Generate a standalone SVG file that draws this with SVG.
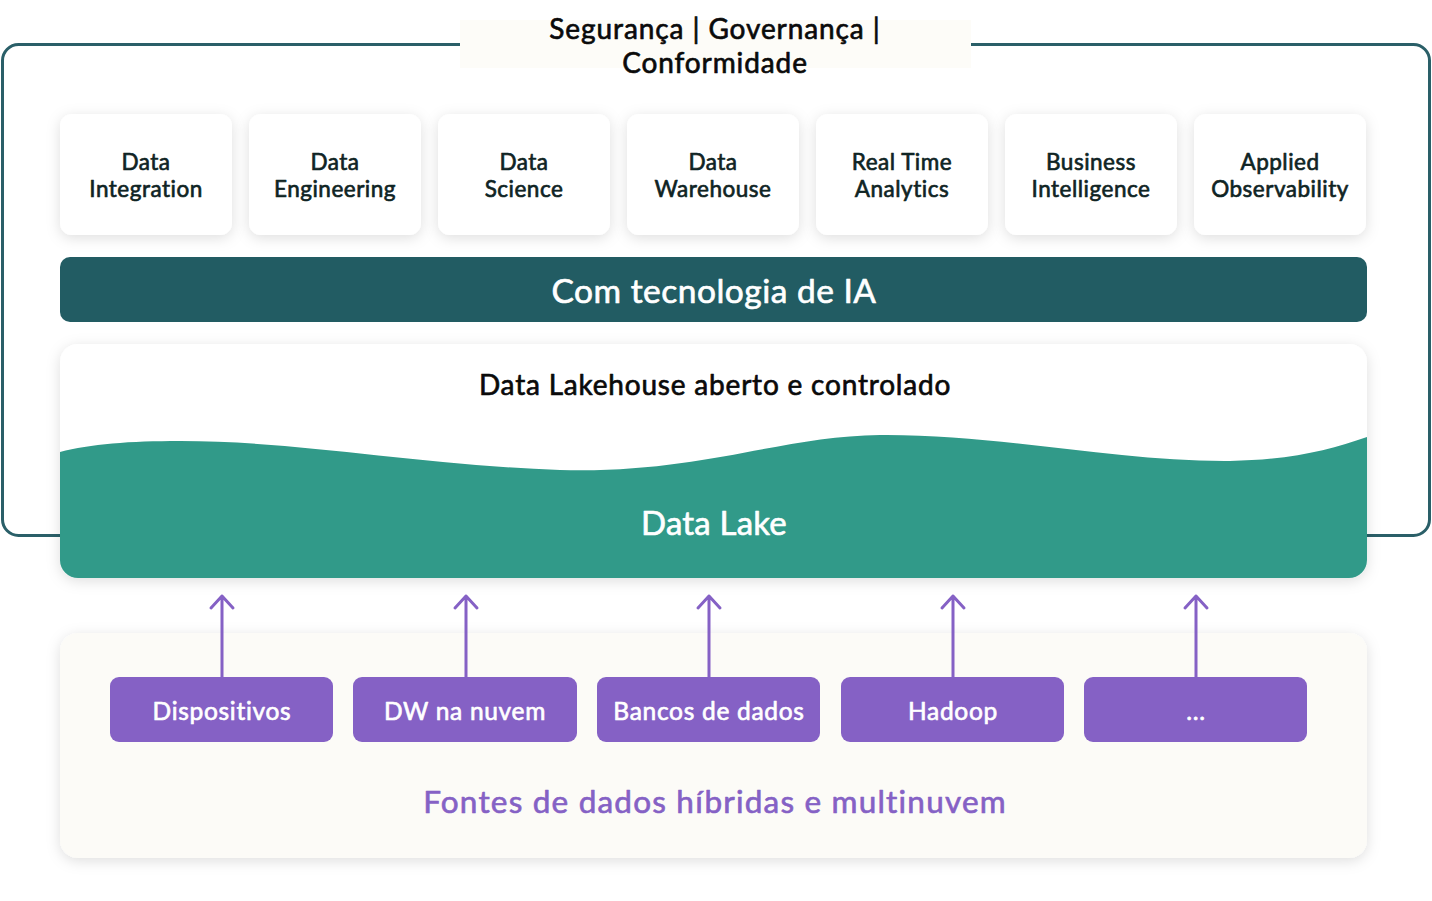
<svg xmlns="http://www.w3.org/2000/svg" width="1432" height="901" viewBox="0 0 1432 901">
<style>
.t{font-family:Lato,"Noto Sans",sans-serif;text-anchor:middle;font-weight:400;stroke-width:0.65;stroke-linejoin:round}
.dk{fill:#0a0a0a;stroke:#0a0a0a}
.wh{fill:#ffffff;stroke:#ffffff}
.pu{fill:#8561c5;stroke:#8561c5}
.card{fill:#ffffff}
.ct{font-size:22.5px;letter-spacing:0.5px;fill:#0f2424;stroke:#0f2424}
.src{fill:#8561c5}
.st{font-size:24.5px;letter-spacing:0.7px}
.arr{stroke:#8561c5;stroke-width:3;fill:none;stroke-linecap:round;stroke-linejoin:round}
</style>
<defs>
<filter id="sh" x="-20%" y="-30%" width="140%" height="160%">
<feDropShadow dx="0" dy="3" stdDeviation="7" flood-color="#000" flood-opacity="0.13"/>
</filter>
<clipPath id="lk"><rect x="60" y="344" width="1307" height="234" rx="18"/></clipPath>
</defs>
<rect width="1432" height="901" fill="#ffffff"/>
<g id="frame">
<rect x="2.5" y="44.5" width="1427" height="491" rx="16" fill="none" stroke="#2a5f68" stroke-width="3"/>
<rect x="460" y="20" width="511" height="48" fill="#fdfcf8"/>
<text class="t dk" x="715" y="39" font-size="28" letter-spacing="0.9">Segurança | Governança |</text>
<text class="t dk" x="715" y="73" font-size="28" letter-spacing="0.9">Conformidade</text>
</g>
<g id="n1"><rect class="card" filter="url(#sh)" x="60" y="114" width="172" height="121" rx="12"/><text class="t ct" x="146" y="170">Data</text><text class="t ct" x="146" y="197">Integration</text></g>
<g id="n2"><rect class="card" filter="url(#sh)" x="249" y="114" width="172" height="121" rx="12"/><text class="t ct" x="335" y="170">Data</text><text class="t ct" x="335" y="197">Engineering</text></g>
<g id="n3"><rect class="card" filter="url(#sh)" x="438" y="114" width="172" height="121" rx="12"/><text class="t ct" x="524" y="170">Data</text><text class="t ct" x="524" y="197">Science</text></g>
<g id="n4"><rect class="card" filter="url(#sh)" x="627" y="114" width="172" height="121" rx="12"/><text class="t ct" x="713" y="170">Data</text><text class="t ct" x="713" y="197">Warehouse</text></g>
<g id="n5"><rect class="card" filter="url(#sh)" x="816" y="114" width="172" height="121" rx="12"/><text class="t ct" x="902" y="170">Real Time</text><text class="t ct" x="902" y="197">Analytics</text></g>
<g id="n6"><rect class="card" filter="url(#sh)" x="1005" y="114" width="172" height="121" rx="12"/><text class="t ct" x="1091" y="170">Business</text><text class="t ct" x="1091" y="197">Intelligence</text></g>
<g id="n7"><rect class="card" filter="url(#sh)" x="1194" y="114" width="172" height="121" rx="12"/><text class="t ct" x="1280" y="170">Applied</text><text class="t ct" x="1280" y="197">Observability</text></g>
<g id="ai"><rect x="60" y="257" width="1307" height="65" rx="10" fill="#225c63"/><text class="t wh" x="714" y="303" font-size="33.5" letter-spacing="0.5">Com tecnologia de IA</text></g>
<g id="lakehouse">
<rect x="60" y="344" width="1307" height="234" rx="18" fill="#ffffff" filter="url(#sh)"/>
<path clip-path="url(#lk)" fill="#319a89" d="M60,452 C90,444 130,441 180,441 C300,441 420,465 560,470 C700,474 780,436 880,435 C1000,434 1120,462 1230,461 C1290,460 1330,450 1367,437 L1367,578 L60,578 Z"/>
<text class="t dk" x="715" y="395" font-size="28" letter-spacing="0.8">Data Lakehouse aberto e controlado</text>
<text class="t wh" x="714" y="535" font-size="33" letter-spacing="0.2">Data Lake</text>
</g>
<g id="sources">
<rect x="60" y="633" width="1307" height="225" rx="18" fill="#fcfbf7" filter="url(#sh)"/>
<text class="t pu" x="715" y="813" font-size="31.5" letter-spacing="1.2">Fontes de dados híbridas e multinuvem</text>
</g>
<g id="s1"><rect class="src" x="110" y="677" width="223" height="65" rx="9"/><text class="t wh st" x="222" y="720">Dispositivos</text></g>
<g id="s2"><rect class="src" x="353" y="677" width="224" height="65" rx="9"/><text class="t wh st" x="465" y="720">DW na nuvem</text></g>
<g id="s3"><rect class="src" x="597" y="677" width="223" height="65" rx="9"/><text class="t wh st" x="709" y="720">Bancos de dados</text></g>
<g id="s4"><rect class="src" x="841" y="677" width="223" height="65" rx="9"/><text class="t wh st" x="953" y="720">Hadoop</text></g>
<g id="s5"><rect class="src" x="1084" y="677" width="223" height="65" rx="9"/><text class="t wh st" x="1196" y="720">...</text></g>
<g id="connectors">
<path class="arr" d="M222,677 V596 M211,608 L222,596 L233,608"/>
<path class="arr" d="M466,677 V596 M455,608 L466,596 L477,608"/>
<path class="arr" d="M709,677 V596 M698,608 L709,596 L720,608"/>
<path class="arr" d="M953,677 V596 M942,608 L953,596 L964,608"/>
<path class="arr" d="M1196,677 V596 M1185,608 L1196,596 L1207,608"/>
</g>
</svg>
